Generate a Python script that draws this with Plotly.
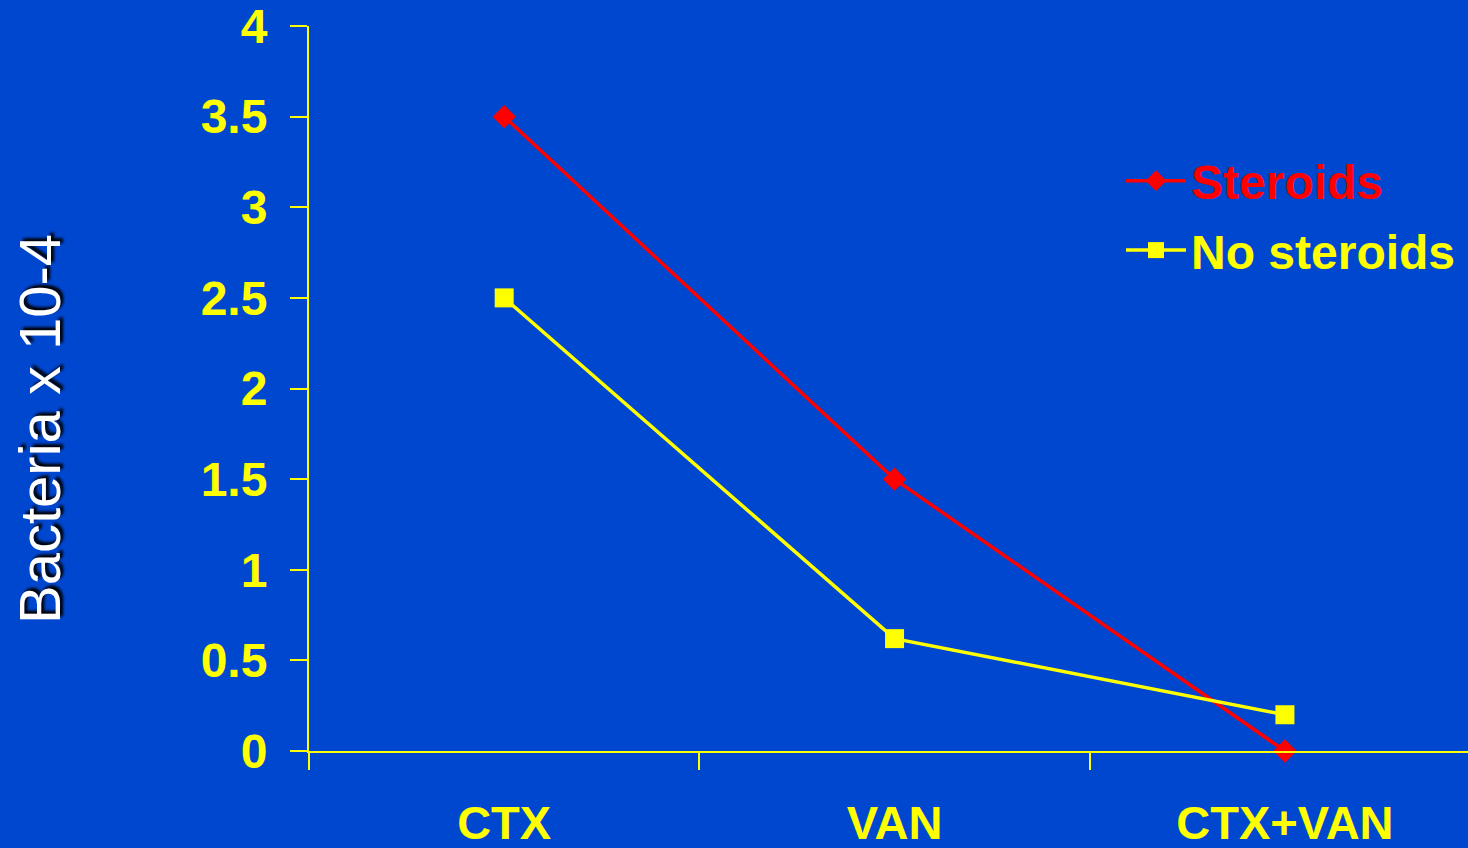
import plotly.graph_objects as go

categories = ["CTX", "VAN", "CTX+VAN"]
steroids = [3.5, 1.5, 0.0]
no_steroids = [2.5, 0.62, 0.2]
y_ticks = [0, 0.5, 1, 1.5, 2, 2.5, 3, 3.5, 4]
y_tick_text = ["0", "0.5", "1", "1.5", "2", "2.5", "3", "3.5", "4"]

BG = "#0047D0"
YEL = "#FFFF00"
RED = "#FF0000"
FONT = "Liberation Sans, Arial, sans-serif"

fig = go.Figure()
fig.add_trace(go.Scatter(
    x=categories, y=steroids, mode="lines+markers",
    name="<span style='color:#FF0000'>Steroids</span>",
    legendgroup="a",
    line=dict(color=RED, width=3.5),
    marker=dict(symbol="diamond", size=18, color=RED),
    cliponaxis=False,
))
fig.add_trace(go.Scatter(
    x=categories, y=no_steroids, mode="lines+markers",
    name="<span style='color:#FFFF00'>No steroids</span>",
    legendgroup="b",
    line=dict(color=YEL, width=3.5),
    marker=dict(symbol="square", size=19, color=YEL),
    cliponaxis=False,
))

fig.update_layout(
    width=1468, height=848,
    paper_bgcolor=BG, plot_bgcolor=BG,
    margin=dict(l=309, r=0, t=26, b=97),
    font=dict(family=FONT, size=48, color=YEL, weight="bold"),
    showlegend=True,
    legend=dict(
        x=(1121 - 309) / 1159, y=(848 - 97 - 143) / 725, xanchor="left", yanchor="top",
        bgcolor="rgba(0,0,0,0)", font=dict(family=FONT, size=48, weight="bold"),
        itemwidth=60, tracegroupgap=4,
    ),
    xaxis=dict(
        type="category", range=[-0.5, 2.469], automargin=False,
        showline=True, linecolor=YEL, linewidth=2,
        ticks="outside", tickson="boundaries", ticklen=17, tickwidth=2, tickcolor=YEL,
        showgrid=False, zeroline=False, ticklabeloverflow="allow",
        tickfont=dict(family=FONT, size=47, color=YEL, weight="bold"),
        ticklabelstandoff=30,
    ),
    yaxis=dict(
        range=[0, 4], tickvals=y_ticks, ticktext=y_tick_text, automargin=False,
        showline=True, linecolor=YEL, linewidth=2,
        ticks="outside", ticklen=17, tickwidth=2, tickcolor=YEL,
        showgrid=False, zeroline=False, ticklabeloverflow="allow",
        tickfont=dict(family=FONT, size=48, color=YEL, weight="bold"),
        ticklabelstandoff=13,
    ),
    annotations=[dict(
        text="Bacteria x 10-4", textangle=-90,
        xref="paper", yref="paper", x=(39 - 309) / 1159, y=(751 - 429) / 725,
        xanchor="center", yanchor="middle", showarrow=False,
        font=dict(family=FONT, size=58, color="white", weight="normal",
                  shadow="3px 3px 3px #000"),
    )],
)

fig.write_html("out.html")
